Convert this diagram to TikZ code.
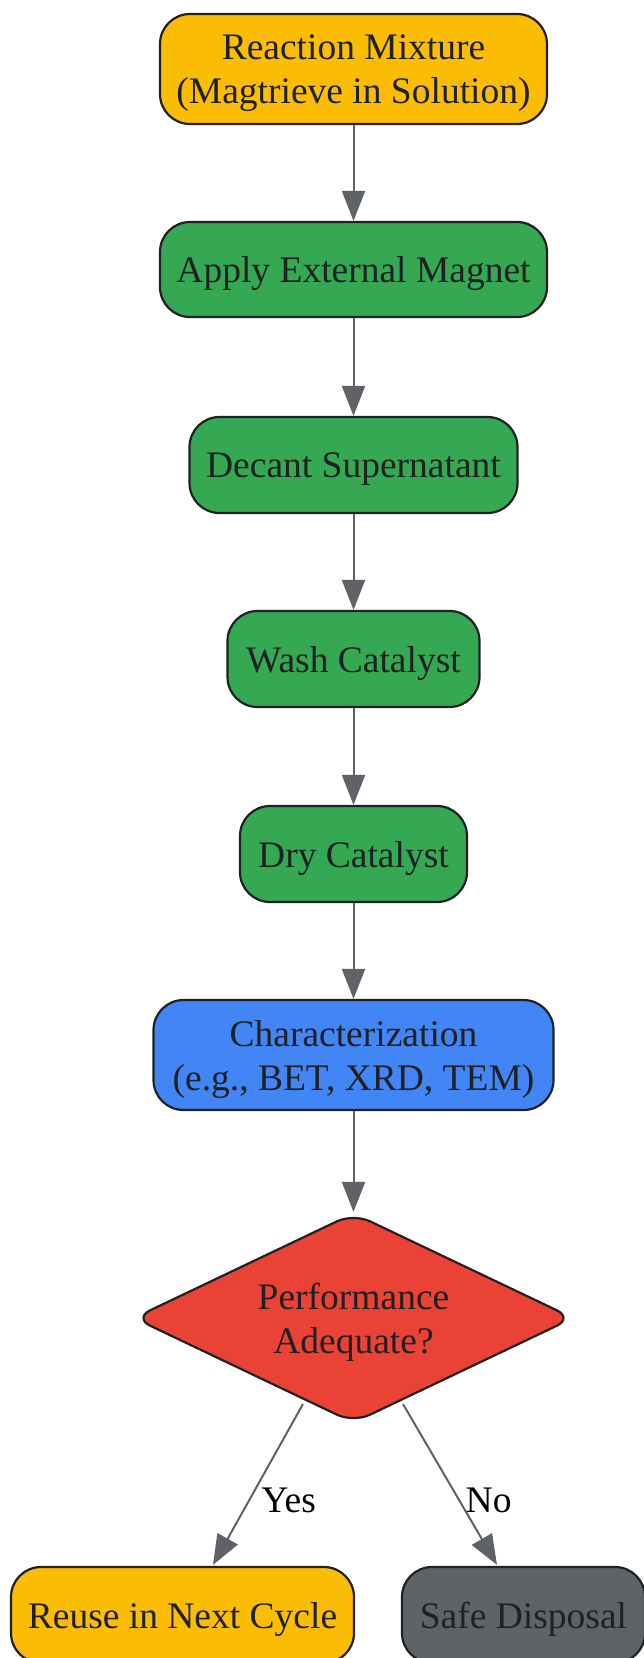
\documentclass[tikz,border=0pt]{standalone}
\usepackage{fontspec}
\setmainfont{Liberation Serif}
\usetikzlibrary{shapes.geometric,arrows.meta,calc}
\definecolor{cyellow}{HTML}{FBBC04}
\definecolor{cgreen}{HTML}{34A853}
\definecolor{cblue}{HTML}{4285F4}
\definecolor{cred}{HTML}{EA4335}
\definecolor{cgray}{HTML}{5F6368}
\definecolor{ctext}{HTML}{202124}
\tikzset{
  box/.style={draw=ctext, line width=2.2pt, rounded corners=30pt, inner sep=0pt, align=center,
    text=ctext, font=\fontsize{37.5}{44}\selectfont, text depth=0pt},
  decision/.style={diamond, draw=ctext, line width=2.2pt, rounded corners=18pt, inner sep=0pt, aspect=2,
    align=center, text=ctext, font=\fontsize{37.5}{44}\selectfont, fill=cred, text depth=0pt},
  conn/.style={draw=cgray, line width=2pt, -{Triangle[length=30pt,width=23pt]}},
  lbl/.style={font=\fontsize{37.5}{44}\selectfont, text=black}
}
\begin{document}
\begin{tikzpicture}[x=1pt,y=-1pt]
\useasboundingbox (0,0) rectangle (644,1658);
\clip (0,0) rectangle (644,1658);
\fill[white] (0,0) rectangle (644,1658);
\node[box, fill=cyellow, minimum width=387pt, minimum height=110pt] (n1) at (353.5,69) {Reaction Mixture\\(Magtrieve in Solution)};
\node[box, fill=cgreen, minimum width=387pt, minimum height=95pt] (n2) at (353.5,269.5) {Apply External Magnet};
\node[box, fill=cgreen, minimum width=328pt, minimum height=96pt] (n3) at (353.5,465) {Decant Supernatant};
\node[box, fill=cgreen, minimum width=252pt, minimum height=96pt] (n4) at (353.5,659) {Wash Catalyst};
\node[box, fill=cgreen, minimum width=227pt, minimum height=96pt] (n5) at (353.5,854) {Dry Catalyst};
\node[box, fill=cblue, minimum width=400pt, minimum height=110pt] (n6) at (353.5,1055) {Characterization\\(e.g., BET, XRD, TEM)};
\node[decision, minimum width=440pt, minimum height=210pt] (dia) at (353.5,1318) {Performance\\Adequate?};
\node[box, fill=cyellow, minimum width=343pt, minimum height=96pt] (reuse) at (182.5,1615) {Reuse in Next Cycle};
\node[box, fill=cgray, minimum width=243pt, minimum height=96pt] (safe) at (523.5,1615) {Safe Disposal};
\draw[conn] (n1) -- (n2);
\draw[conn] (n2) -- (n3);
\draw[conn] (n3) -- (n4);
\draw[conn] (n4) -- (n5);
\draw[conn] (n5) -- (n6);
\draw[conn] (n6) -- (dia);
\coordinate (ys) at ($(dia.center)+(-50.5,86)$);
\coordinate (ye) at ($(reuse.north)+(30.5,-1)$);
\coordinate (ns) at ($(dia.center)+(49.5,86)$);
\coordinate (ne) at ($(safe.north)+(-26.5,-1)$);
\draw[conn] (ys) -- node[pos=0.6, anchor=west, lbl, xshift=8pt] {Yes} (ye);
\draw[conn] (ns) -- node[pos=0.6, anchor=west, lbl, xshift=2pt] {No} (ne);
\end{tikzpicture}
\end{document}
